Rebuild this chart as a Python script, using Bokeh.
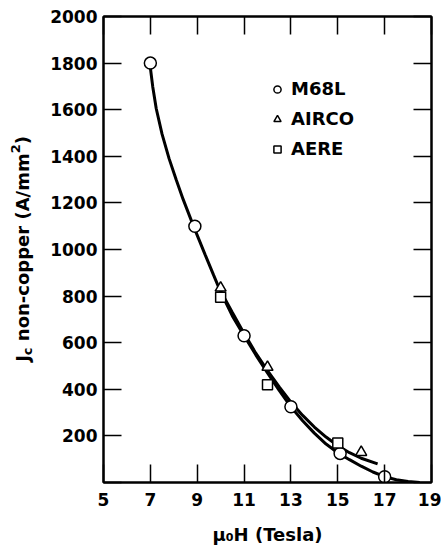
from bokeh.plotting import figure
from bokeh.models import Range1d, LinearAxis, FixedTicker, Legend, LegendItem, Div
from bokeh.layouts import row
from bokeh.embed import file_html
from bokeh.resources import INLINE

# ---- data ----
field_m68l = [7.0, 8.9, 11.0, 13.0, 15.1, 17.0]
jc_m68l = [1800, 1100, 630, 325, 125, 25]

field_airco = [10.0, 12.0, 16.0]
jc_airco = [835, 495, 130]

field_aere = [10.0, 12.0, 15.0]
jc_aere = [795, 420, 170]

# fitted curve through the M68L points
curve_a_field = [7.0, 7.1, 7.25, 7.5, 7.8, 8.1, 8.4, 8.85, 9.35, 9.7, 10.0, 10.5, 11.0,
                 11.5, 12.0, 12.5, 13.0, 13.5, 14.0, 14.5, 15.0, 15.5, 16.0, 16.5,
                 17.0, 17.5, 18.0, 18.5]
curve_a_jc = [1780, 1700, 1605, 1495, 1390, 1300, 1215, 1098, 975, 890, 818, 715, 630,
              548, 470, 395, 325, 265, 212, 165, 128, 98, 70, 45,
              25, 12, 4, 0]

# second curve through AIRCO / AERE points
curve_b_field = [9.9, 10.5, 11.0, 11.5, 12.0, 12.5, 13.0, 13.5, 14.0, 14.5, 15.0, 15.5, 16.0, 16.7]
curve_b_jc = [840, 730, 640, 555, 480, 410, 345, 288, 238, 195, 158, 128, 104, 80]

x_ticks = [5, 7, 9, 11, 13, 15, 17, 19]
y_ticks = [0, 200, 400, 600, 800, 1000, 1200, 1400, 1600, 1800, 2000]

FONT = "DejaVu Sans"

TOTAL_W, H = 441, 547
LABEL_W = 40
W = TOTAL_W - LABEL_W
X0, X1 = 5, 19
Y0, Y1 = 0, 2000
ML, MR, MT, MB = 103 - LABEL_W, 10, 16, 65

p = figure(width=W, height=H, x_range=Range1d(X0, X1), y_range=Range1d(Y0, Y1),
           output_backend="svg", toolbar_location=None,
           min_border_left=ML, min_border_right=MR, min_border_top=MT, min_border_bottom=MB,
           x_axis_label="μ₀H (Tesla)")

bottom_ax = p.below[0]
left_ax = p.left[0]

p.grid.visible = False
p.outline_line_color = "black"
p.outline_line_width = 2
p.background_fill_color = "white"
p.border_fill_color = "white"

top_ax = LinearAxis()
right_ax = LinearAxis()
p.add_layout(top_ax, "above")
p.add_layout(right_ax, "right")

for ax in [bottom_ax, top_ax]:
    ax.ticker = FixedTicker(ticks=x_ticks)
for ax in [left_ax, right_ax]:
    ax.ticker = FixedTicker(ticks=y_ticks)

for ax in [bottom_ax, left_ax, top_ax, right_ax]:
    ax.major_tick_in = 18
    ax.major_tick_out = 0
    ax.minor_tick_line_color = None
    ax.major_tick_line_width = 1.5
    ax.major_tick_line_color = "black"
    ax.axis_line_width = 2
    ax.axis_line_color = "black"
    ax.major_label_text_font = FONT
    ax.major_label_text_font_style = "bold"
    ax.major_label_text_color = "black"

for ax in [top_ax, right_ax]:
    ax.major_label_text_color = None
    ax.major_label_text_font_size = "1px"
    ax.major_label_standoff = 0

bottom_ax.major_label_text_font_size = "17px"
bottom_ax.major_label_standoff = 10
left_ax.major_label_text_font_size = "17px"
left_ax.major_label_standoff = 6
left_ax.major_label_overrides = {0: ""}

bottom_ax.axis_label_text_font = FONT
bottom_ax.axis_label_text_font_size = "18px"
bottom_ax.axis_label_text_font_style = "bold"
bottom_ax.axis_label_text_color = "black"
bottom_ax.axis_label_standoff = 15

# curves
p.line(curve_a_field, curve_a_jc, line_color="black", line_width=3)
p.line(curve_b_field, curve_b_jc, line_color="black", line_width=3)

# markers
r_m = p.scatter(field_m68l, jc_m68l, marker="circle", size=12,
                fill_color="white", line_color="black", line_width=1.5)
r_a = p.scatter(field_airco, jc_airco, marker="triangle", size=11,
                fill_color="white", line_color="black", line_width=1.5)
r_e = p.scatter(field_aere, jc_aere, marker="square", size=10,
                fill_color="white", line_color="black", line_width=1.5)

frame_h = H - MT - MB

legend = Legend(items=[LegendItem(label="M68L", renderers=[r_m]),
                       LegendItem(label="AIRCO", renderers=[r_a]),
                       LegendItem(label="AERE", renderers=[r_e])],
                location=(165, frame_h - 143), orientation="vertical",
                glyph_width=18, glyph_height=18, label_standoff=5, spacing=9,
                padding=0, margin=0, border_line_color=None, background_fill_alpha=0,
                label_text_font=FONT, label_text_font_size="18px",
                label_text_font_style="bold", label_text_color="black")
p.add_layout(legend)

# rotated y-axis label with subscript / superscript (HTML text)
center_y = MT + frame_h / 2
ylabel_html = (
    f'<div style="width:{LABEL_W}px;height:{int(round(2 * center_y))}px;display:flex;'
    f'align-items:center;justify-content:center;padding-left:2px;box-sizing:border-box;">'
    f'<span style="writing-mode:vertical-rl;transform:rotate(180deg);white-space:nowrap;'
    f'font-family:\'{FONT}\';font-weight:bold;font-size:18px;line-height:1;color:black;">'
    f'J<sub style="font-size:13px;">c</sub> non-copper (A/mm<sup style="font-size:13px;">2</sup>)'
    f'</span></div>'
)
ylabel = Div(text=ylabel_html, width=LABEL_W, height=H, margin=0)

layout = row(ylabel, p, spacing=0)

open("out.html", "w").write(file_html(layout, INLINE))
